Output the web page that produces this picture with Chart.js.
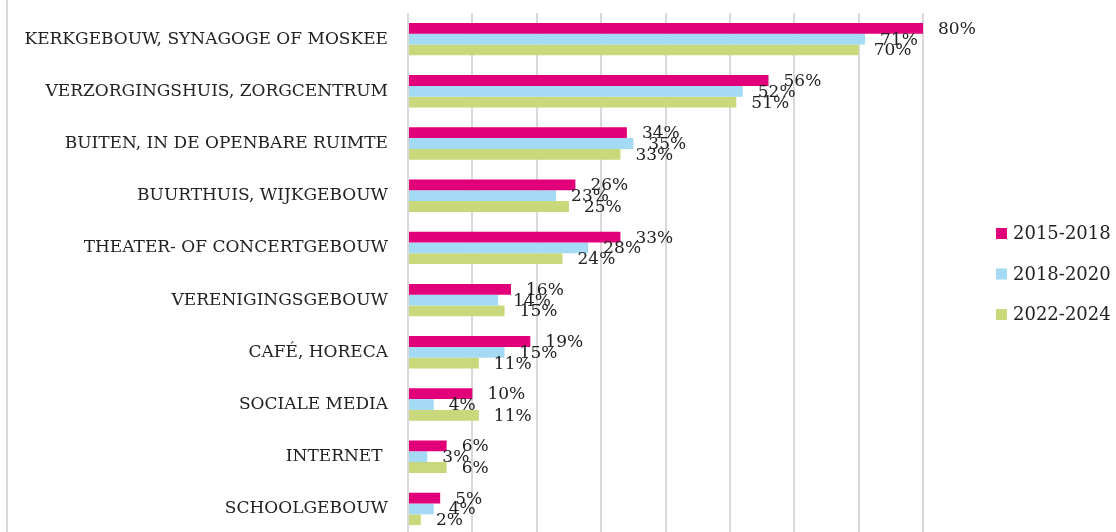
<!DOCTYPE html>
<html>
<head>
<meta charset="utf-8">
<script src="https://cdn.jsdelivr.net/npm/chart.js@4"></script>
<style>
  html, body { margin: 0; padding: 0; background: #ffffff; overflow: hidden; }
  #wrap { position: relative; width: 1116px; height: 540px; }
  #edge { position: absolute; left: 6px; top: 0; width: 2px; height: 100%; background: #d9d9d9; }
</style>
</head>
<body>
<div id="wrap">
  <canvas id="c"></canvas>
  <div id="edge"></div>
</div>
<script>
const categories = [
  "KERKGEBOUW, SYNAGOGE OF MOSKEE",
  "VERZORGINGSHUIS, ZORGCENTRUM",
  "BUITEN, IN DE OPENBARE RUIMTE",
  "BUURTHUIS, WIJKGEBOUW",
  "THEATER- OF CONCERTGEBOUW",
  "VERENIGINGSGEBOUW",
  "CAFÉ, HORECA",
  "SOCIALE MEDIA",
  "INTERNET ",
  "SCHOOLGEBOUW"
];
const seriesNames = ["2015-2018", "2018-2020", "2022-2024"];
const values2015_2018 = [80, 56, 34, 26, 33, 16, 19, 10, 6, 5];
const values2018_2020 = [71, 52, 35, 23, 28, 14, 15, 4, 3, 4];
const values2022_2024 = [70, 51, 33, 25, 24, 15, 11, 11, 6, 2];
const xTicks = [0, 10, 20, 30, 40, 50, 60, 70, 80];

const colors = ["#E2007A", "#A4DAF3", "#C8D87A"];
const FONT = "'DejaVu Serif', 'Liberation Serif', serif";
const TEXT = "#222222";

const valueLabels = {
  id: 'valueLabels',
  afterDatasetsDraw(chart) {
    const ctx = chart.ctx;
    ctx.save();
    ctx.font = "17px " + FONT;
    ctx.fillStyle = TEXT;
    ctx.textAlign = 'left';
    ctx.textBaseline = 'middle';
    chart.data.datasets.forEach((ds, di) => {
      const meta = chart.getDatasetMeta(di);
      meta.data.forEach((el, i) => {
        ctx.fillText(ds.data[i] + '%', el.x + 15, el.y + 1);
      });
    });
    ctx.restore();
  }
};

const sideLegend = {
  id: 'sideLegend',
  afterDraw(chart) {
    const ctx = chart.ctx;
    const area = chart.chartArea;
    const n = chart.data.datasets.length;
    const spacing = 40.5;
    const mid = (area.top + area.bottom) / 2;
    const boxX = area.right + 73;
    const box = 11;
    ctx.save();
    ctx.font = "18px " + FONT;
    ctx.textAlign = 'left';
    ctx.textBaseline = 'middle';
    chart.data.datasets.forEach((ds, i) => {
      const cy = mid + (i - (n - 1) / 2) * spacing;
      ctx.fillStyle = ds.backgroundColor;
      ctx.fillRect(boxX, cy - box / 2, box, box);
      ctx.fillStyle = TEXT;
      ctx.fillText(ds.label, boxX + box + 6, cy + 1);
    });
    ctx.restore();
  }
};

new Chart(document.getElementById('c'), {
  type: 'bar',
  data: {
    labels: categories,
    datasets: [
      { label: seriesNames[0], data: values2015_2018, backgroundColor: colors[0] },
      { label: seriesNames[1], data: values2018_2020, backgroundColor: colors[1] },
      { label: seriesNames[2], data: values2022_2024, backgroundColor: colors[2] }
    ]
  },
  options: {
    indexAxis: 'y',
    responsive: true,
    maintainAspectRatio: false,
    animation: false,
    layout: { padding: { left: 0, right: 193, top: 13, bottom: 5 } },
    datasets: { bar: { categoryPercentage: 0.62, barPercentage: 1.0 } },
    plugins: {
      legend: { display: false },
      tooltip: { enabled: false },
      title: { display: false }
    },
    scales: {
      x: {
        min: 0,
        max: 80,
        afterBuildTicks(scale) { scale.ticks = xTicks.map(v => ({ value: v })); },
        ticks: { display: false },
        grid: { color: '#d9d9d9', lineWidth: 2, drawTicks: false },
        border: { display: false }
      },
      y: {
        afterFit(scale) {
          scale.width = 408;
          scale.paddingTop = 0;
          scale.paddingBottom = 0;
        },
        ticks: {
          color: TEXT,
          padding: 20,
          font: { family: FONT, size: 17 }
        },
        grid: { display: false, drawTicks: false },
        border: { display: false }
      }
    }
  },
  plugins: [valueLabels, sideLegend]
});
</script>
</body>
</html>
